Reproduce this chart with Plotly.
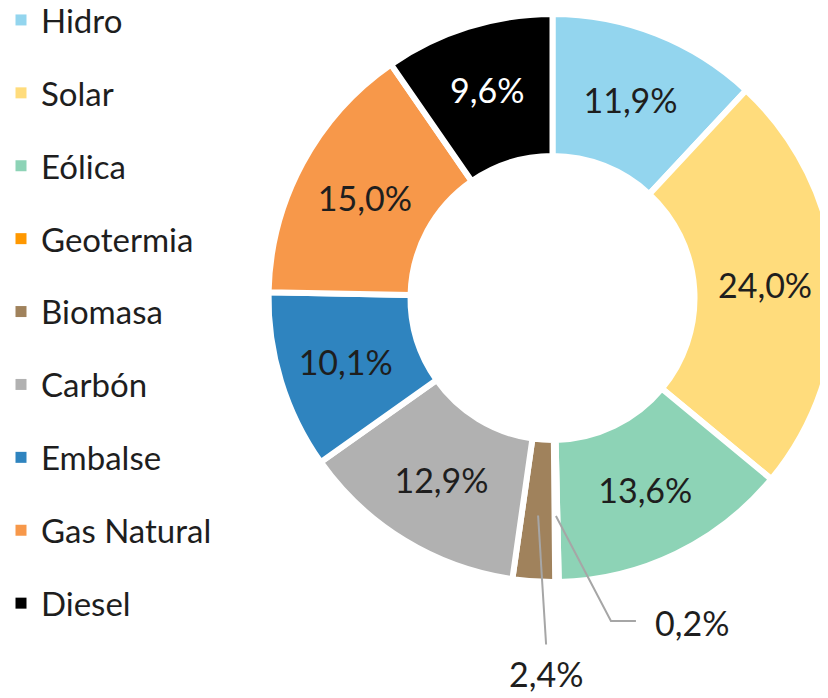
import math
import plotly.graph_objects as go

# ---- data ----
labels = ["Hidro", "Solar", "Eólica", "Geotermia", "Biomasa", "Carbón", "Embalse", "Gas Natural", "Diesel"]
values = [11.9, 24.0, 13.6, 0.2, 2.4, 12.9, 10.1, 15.0, 9.6]
colors = ["#93D5EE", "#FFDC7C", "#8DD3B6", "#FF9800", "#A0825C", "#B1B1B1", "#2F84BF", "#F7984A", "#000000"]
outside = ["Geotermia", "Biomasa"]

W, H = 840, 698
FONT = "Lato"
TXT = "#1E1E1E"
LBL_SIZE = 34
LEG_SIZE = 33

def fmt(v):
    return f"{v:.1f}".replace(".", ",") + "%"

texts = ["" if l in outside else fmt(v) for l, v in zip(labels, values)]
tcolors = ["#FFFFFF" if c == "#000000" else TXT for c in colors]

# pie geometry (figure pixels)
CXF, CYF, RF = 544.5, 290.0, 284.0
dom_x = [(CXF - RF) / W, (CXF + RF) / W]
yc_paper = 1 - CYF / H
dom_y = [yc_paper - 0.41, yc_paper + 0.41]
R = min((dom_x[1] - dom_x[0]) * W, (dom_y[1] - dom_y[0]) * H) / 2
cx = (dom_x[0] + dom_x[1]) / 2 * W
cy = (1 - (dom_y[0] + dom_y[1]) / 2) * H

fig = go.Figure()
fig.add_trace(go.Pie(
    labels=labels, values=values, sort=False, direction="clockwise", rotation=0,
    hole=0.5, domain=dict(x=dom_x, y=dom_y),
    marker=dict(colors=colors, line=dict(color="white", width=6)),
    text=texts, textinfo="text", textposition="inside",
    insidetextorientation="horizontal",
    textfont=dict(family=FONT, size=LBL_SIZE, color=tcolors),
    showlegend=False, hoverinfo="label+value",
))

# legend through dummy traces (one group each for spacing)
for l, c in zip(labels, colors):
    fig.add_trace(go.Scatter(
        x=[None], y=[None], mode="markers", name=l, legendgroup=l,
        marker=dict(symbol="square", size=11, color=c),
    ))

# leader lines for outside labels, anchored at slice mid-angles
total = sum(values)
cum = 0
mids = {}
for l, v in zip(labels, values):
    mids[l] = (cum + v / 2) / total * 360
    cum += v

def pt(theta, r):
    t = math.radians(theta)
    return cx + r * math.sin(t), cy - r * math.cos(t)

def P(x, y):
    return x / W, 1 - y / H

r_anchor = 218
shapes = []
annos = []
# Geotermia
sx, sy = pt(mids["Geotermia"], r_anchor)
ex, ey = sx + 55, sy + 105
fx, fy = ex + 25, ey
pts = [P(sx, sy), P(ex, ey), P(fx, fy)]
path = "M {} {} L {} {} L {} {}".format(*[c for p in pts for c in p])
shapes.append(dict(type="path", xref="paper", yref="paper", path=path,
                   line=dict(color="#A6A6A6", width=2)))
ax_, ay_ = P(fx + 17, fy + 2)
annos.append(dict(x=ax_, y=ay_, xref="paper", yref="paper", xanchor="left", yanchor="middle",
                  text=fmt(values[labels.index("Geotermia")]), showarrow=False,
                  font=dict(family=FONT, size=LBL_SIZE, color=TXT)))
# Biomasa
sx, sy = pt(mids["Biomasa"], r_anchor)
ex, ey = sx + 8, sy + 129
pts = [P(sx, sy), P(ex, ey)]
path = "M {} {} L {} {}".format(*[c for p in pts for c in p])
shapes.append(dict(type="path", xref="paper", yref="paper", path=path,
                   line=dict(color="#A6A6A6", width=2)))
ax_, ay_ = P(ex, ey + 29)
annos.append(dict(x=ax_, y=ay_, xref="paper", yref="paper", xanchor="center", yanchor="middle",
                  text=fmt(values[labels.index("Biomasa")]), showarrow=False,
                  font=dict(family=FONT, size=LBL_SIZE, color=TXT)))

fig.update_layout(
    width=W, height=H, margin=dict(l=0, r=0, t=0, b=0, autoexpand=False),
    paper_bgcolor="white", plot_bgcolor="white",
    xaxis=dict(visible=False), yaxis=dict(visible=False),
    shapes=shapes, annotations=annos,
    legend=dict(x=-7 / W, y=1 + 16 / H, xref="paper", yref="paper", xanchor="left", yanchor="top",
                font=dict(family=FONT, size=LEG_SIZE, color=TXT), maxheight=H,
                tracegroupgap=27, itemclick=False, bgcolor="rgba(0,0,0,0)"),
    font=dict(family=FONT),
)
fig.write_html("out.html")
